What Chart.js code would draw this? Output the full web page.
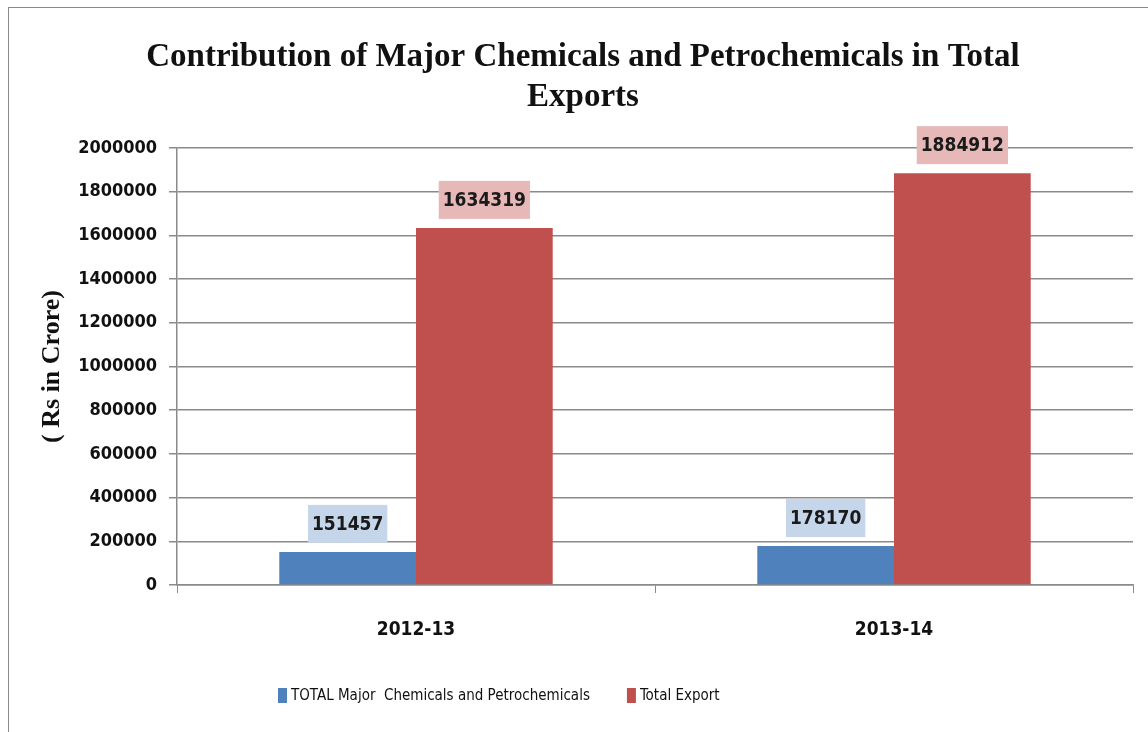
<!DOCTYPE html>
<html>
<head>
<meta charset="utf-8">
<script src="https://cdn.jsdelivr.net/npm/chart.js@4"></script>
<style>
  html, body { margin: 0; padding: 0; background: #fff; }
  #wrap { position: relative; width: 1148px; height: 732px; }
  #frame { position: absolute; left: 8px; top: 7px; width: 1160px; height: 740px; border: 1.5px solid #8a8a8a; box-sizing: border-box; pointer-events: none; }
</style>
</head>
<body>
<div id="wrap">
  <canvas id="myChart" width="1148" height="732"></canvas>
  <div id="frame"></div>
</div>
<script>
const years = ['2012-13', '2013-14'];
const chemicals = [151457, 178170];
const totalExport = [1634319, 1884912];
const yTicks = [0, 200000, 400000, 600000, 800000, 1000000, 1200000, 1400000, 1600000, 1800000, 2000000];

const seriesNames = ['TOTAL Major  Chemicals and Petrochemicals', 'Total Export'];
const barColors = ['#4f81bd', '#c0504d'];
const labelBoxColors = ['#c6d6ea', '#e6b9b8'];

const narrowFont = '"DejaVu Sans Condensed", "Liberation Sans Narrow", sans-serif';
const titleFont = '"Liberation Serif", "DejaVu Serif", serif';

// value boxes above each bar
const valueLabels = {
  id: 'valueLabels',
  afterDatasetsDraw(chart) {
    const ctx = chart.ctx;
    ctx.save();
    ctx.font = 'bold 19px ' + narrowFont;
    ctx.textAlign = 'center';
    ctx.textBaseline = 'middle';
    chart.data.datasets.forEach((ds, i) => {
      const meta = chart.getDatasetMeta(i);
      meta.data.forEach((bar, j) => {
        const txt = String(ds.data[j]);
        const w = ctx.measureText(txt).width + 8;
        const h = 38;
        const bottom = bar.y - 9;
        ctx.fillStyle = labelBoxColors[i];
        ctx.fillRect(bar.x - w / 2, bottom - h, w, h);
        ctx.fillStyle = '#1a1a1a';
        ctx.fillText(txt, bar.x, bottom - h / 2 + 1);
      });
    });
    ctx.restore();
  }
};

// title and legend
const decorations = {
  id: 'decorations',
  afterDraw(chart) {
    const ctx = chart.ctx;
    ctx.save();
    ctx.fillStyle = '#111';
    ctx.textAlign = 'center';
    ctx.textBaseline = 'middle';
    ctx.font = 'bold 33px ' + titleFont;
    ctx.fillText('Contribution of Major Chemicals and Petrochemicals in Total', 583, 57);
    ctx.fillText('Exports', 583, 97);

    ctx.font = '15px ' + narrowFont;
    ctx.textAlign = 'left';
    let x = 278;
    const y = 696;
    chart.data.datasets.forEach((ds, i) => {
      ctx.fillStyle = barColors[i];
      ctx.fillRect(x, y - 8, 9, 15);
      ctx.fillStyle = '#111';
      ctx.fillText(ds.label, x + 13, y);
      x += 13 + ctx.measureText(ds.label).width + 37;
    });
    ctx.restore();
  }
};

const ctx = document.getElementById('myChart').getContext('2d');
new Chart(ctx, {
  type: 'bar',
  data: {
    labels: years,
    datasets: [
      { label: seriesNames[0], data: chemicals, backgroundColor: barColors[0], borderWidth: 0 },
      { label: seriesNames[1], data: totalExport, backgroundColor: barColors[1], borderWidth: 0 }
    ]
  },
  options: {
    responsive: false,
    animation: false,
    layout: { padding: { left: 8, right: 15, top: 148, bottom: 0 } },
    datasets: { bar: { categoryPercentage: 0.572, barPercentage: 1 } },
    plugins: {
      legend: { display: false },
      title: { display: false },
      tooltip: { enabled: false }
    },
    scales: {
      x: {
        grid: { drawOnChartArea: false, color: '#8a8a8a', tickLength: 8, offset: true },
        border: { color: '#8a8a8a', width: 1.5 },
        ticks: { color: '#111', padding: 26, font: { family: narrowFont, size: 19, weight: 'bold' } },
        afterFit(scale) { scale.height = 147; }
      },
      y: {
        min: 0,
        max: 2000000,
        afterBuildTicks(scale) { scale.ticks = yTicks.map(v => ({ value: v })); },
        grid: { color: '#8a8a8a', lineWidth: 1.5, tickLength: 8 },
        border: { color: '#8a8a8a', width: 1.5 },
        ticks: {
          color: '#111',
          padding: 12,
          font: { family: narrowFont, size: 18, weight: 'bold' },
          callback: v => String(v)
        },
        title: {
          display: true,
          text: '( Rs in Crore)',
          color: '#111',
          padding: { top: 29, bottom: 0 },
          font: { family: titleFont, size: 26, weight: 'bold' }
        },
        afterFit(scale) { scale.width = 169; }
      }
    }
  },
  plugins: [valueLabels, decorations]
});
</script>
</body>
</html>
